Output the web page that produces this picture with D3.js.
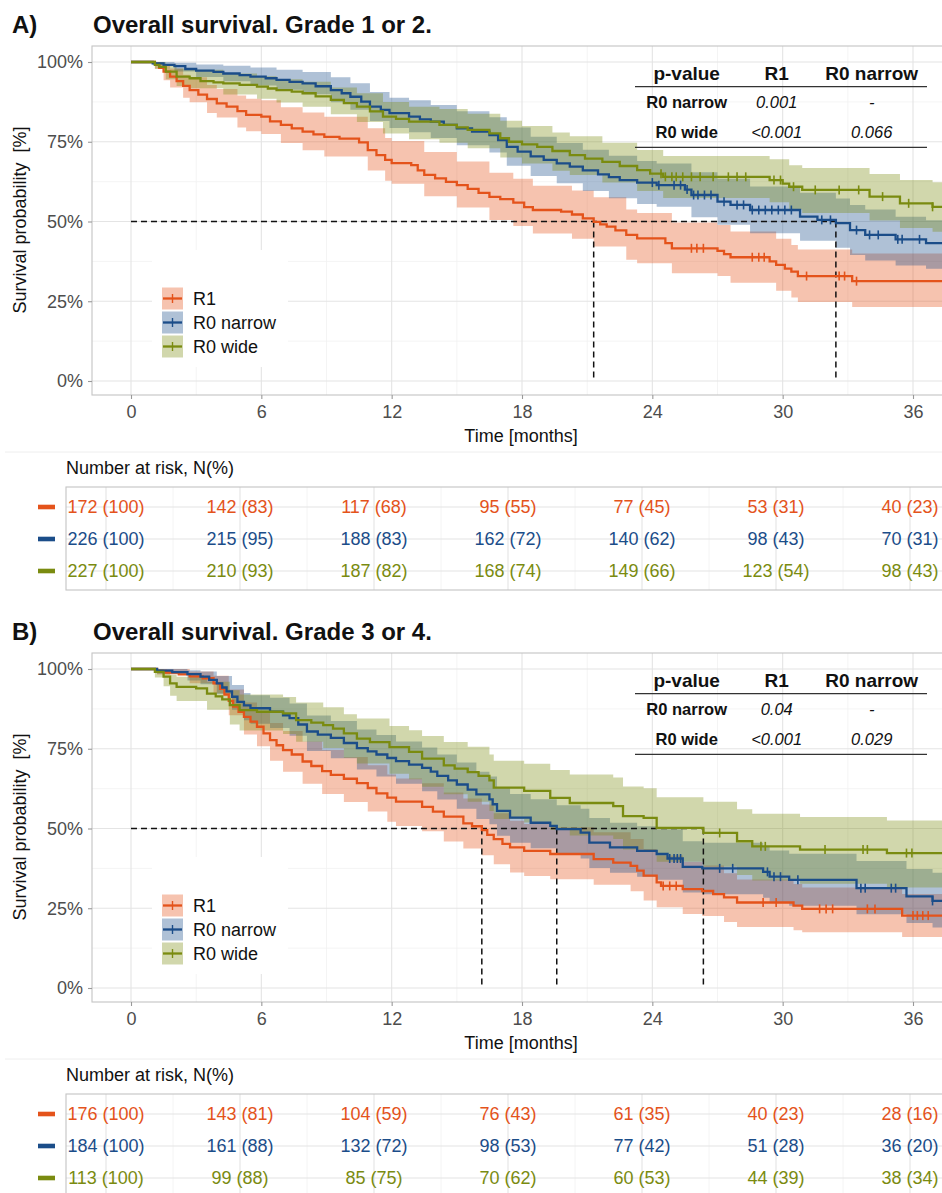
<!DOCTYPE html>
<html>
<head>
<meta charset="utf-8">
<script src="https://cdn.jsdelivr.net/npm/d3@7"></script>
<style>
  body { margin: 0; background: #fff; }
  svg { display: block; }
</style>
</head>
<body>
<script>
// groups and ticks
var groups = ['R1', 'R0 narrow', 'R0 wide'];
var xTicks = [0, 6, 12, 18, 24, 30, 36];
var yTicks = [0, 25, 50, 75, 100];

// ---- panel A: grade 1 or 2 ----
var titleA = 'Overall survival. Grade 1 or 2.';
var kmA_R1 = [[0,100],[1.1,99.4],[1.3,98.2],[1.5,97],[1.8,95.4],[2.1,94],[2.4,92.5],[2.7,91.2],[3.1,89.8],[3.5,88.4],[3.95,87],[4.4,86],[4.9,84.6],[5.3,83.4],[6,82.9],[6.4,81.4],[6.9,80.3],[7.4,79.2],[7.9,78.2],[8.4,77.3],[8.9,76.5],[9.6,76],[10.5,74.8],[10.9,72.4],[11.3,70.8],[11.7,69.3],[12,68.3],[12.9,67.7],[13.2,66],[13.5,64.6],[14,63.5],[14.5,62.4],[15,61.4],[15.5,60.2],[16,59],[16.5,57.7],[17,57],[17.6,55.9],[18.1,54.5],[18.5,53.6],[19.8,53.1],[20.3,52.2],[20.8,51],[21.3,49.9],[21.6,49.1],[21.9,48.4],[22.3,47.2],[22.8,45.8],[23.3,44.7],[24.6,43.2],[24.9,41.6],[27,40.8],[27.3,39.8],[27.6,38.8],[29.4,37.5],[29.7,36.4],[30.1,35.2],[30.4,34.3],[30.7,32.9],[33.2,31.3]];
var ciA_R1 = [[0,100,100],[1.1,98,100],[1.5,94.3,99.2],[1.8,92,98],[2.4,88.8,96],[2.7,87.4,95.2],[3.5,84,92.8],[3.95,82.6,91.5],[4.9,79.5,89.5],[5.3,78.3,88.5],[6,77.4,88],[6.9,74.6,85.8],[7.9,72.3,84.2],[8.9,70.4,82.8],[10.9,66,79.2],[11.7,62.8,76.2],[12,61.8,75.2],[13.5,57.9,71.8],[15,54.4,68.8],[16.5,50.5,65.3],[17.6,48.6,63.4],[18.5,46.2,61.2],[20.3,44.6,59.7],[21.3,42.2,57.6],[22.8,38,53.8],[23.3,36.9,52.7],[24.9,33.8,49.7],[27,32.9,48.9],[27.6,30.8,46.9],[29.7,28.3,44.6],[30.4,26.2,42.6],[30.7,24.8,41.2],[33.2,23.2,40]];
var censA_R1 = [25.8,26.05,26.35,28.6,28.9,29.15,31.1,32.6,32.85,33.4];

var kmA_R0n = [[0,100],[1,99.6],[1.5,99.1],[2,98.7],[2.5,97.8],[3,97.3],[3.8,96.9],[4.25,96.4],[5,95.9],[5.5,95.4],[6.2,94.9],[6.7,94.4],[7.3,93.8],[7.9,93.3],[8.5,92.4],[9.2,91.2],[9.7,90.2],[10.1,89.1],[10.6,87.6],[11,86],[11.5,85],[11.9,84],[12.8,82.9],[13.3,82],[13.8,81.3],[14.4,80.3],[15,79.2],[15.7,78.2],[16.5,77.1],[16.9,75.5],[17.3,73.4],[17.8,71.9],[18.4,70.4],[19,69.3],[19.6,68.2],[20.2,67.2],[20.8,66],[21.5,64.8],[22,63.9],[22.5,63],[23.3,62.2],[24.2,61.4],[25.5,60],[25.8,58.3],[27,56.2],[27.6,55.2],[28.5,53.6],[30.8,51.5],[31.6,50.5],[32.45,49.5],[33.1,47.3],[33.8,45.8],[35.2,44.4],[36.6,43.2]];
var ciA_R0n = [[0,100,100],[1,99,100],[2,97,99.8],[3,95.3,99.2],[4.25,94,98.8],[5.5,92.6,98.3],[6.7,91.3,97.6],[7.9,89.9,96.9],[9.2,87.4,95.2],[10.1,85,93.3],[11,81.5,90.6],[11.9,79.3,88.8],[12.8,78,88],[13.8,76.2,86.5],[15,73.9,84.6],[16.5,71.6,82.7],[17.3,67.5,79.5],[18.4,64.3,76.6],[19.6,62,74.6],[20.8,59.6,72.5],[22,57.3,70.6],[23.3,55.5,69],[24.2,54.6,68.2],[25.8,51.3,65.4],[27,49,63.4],[28.5,46.3,61],[30.8,44,59],[32.45,41.8,57.2],[33.1,39.5,55.2],[33.8,37.8,53.8],[35.2,36.2,51.5],[36.6,35.2,50.4]];
var censA_R0n = [24,24.3,25,25.3,25.6,25.9,26.1,26.4,26.7,27.3,27.9,28.2,28.6,28.9,29.2,29.5,29.8,30.1,30.4,31.8,32.2,33.4,34,34.4,35.3,35.5,36.3];

var kmA_R0w = [[0,100],[1.1,99.1],[1.3,98.5],[1.6,97],[2.1,95.4],[2.7,94.9],[3.2,94],[3.8,93.6],[4.25,93.3],[5,92.8],[5.8,92.3],[6.3,91.7],[6.7,91.2],[7.4,90.7],[7.9,90.2],[8.5,89.2],[9.2,88.1],[9.8,87.1],[10.4,86],[11,84.5],[11.6,82.9],[12.2,82.2],[12.8,81.3],[14.2,80.3],[15,79.5],[15.5,78.7],[16.5,77.6],[17,76.1],[17.4,75],[18,74.2],[18.7,73.4],[19.4,72.1],[20.2,70.8],[20.9,69.7],[21.7,68.7],[22.5,67.4],[23.3,66.1],[23.9,65],[24.5,64],[29.4,63],[30,61.9],[30.3,60.9],[30.9,59.9],[34,57.8],[35.4,55.7],[36.9,54.6]];
var ciA_R0w = [[0,100,100],[1.1,97.8,100],[1.6,94.6,99.2],[2.1,92.5,98],[2.7,91.8,97.6],[4.25,89.8,96.4],[5.8,88.5,95.5],[6.7,87.3,94.6],[7.9,86,93.8],[9.2,83.6,92],[10.4,81.2,90.2],[11.6,77.6,87.5],[12.8,75.8,86],[14.2,74.7,85.3],[15.5,73,83.8],[17,70.1,81.6],[18,68.2,79.9],[19.4,65.9,77.9],[20.2,64.6,76.7],[21.7,62.2,74.7],[23.3,59.6,72.4],[24.5,57.4,70.5],[29.4,56,69.5],[30.3,53.8,67.6],[30.9,52.7,66.8],[34,50.3,64.9],[35.4,48,63],[36.9,46.8,62.3]];
var censA_R0w = [24.4,24.6,24.9,25.1,25.4,25.8,26.2,26.8,27.5,27.9,28.3,29.6,29.9,30.5,31.5,32.6,33.5,34.6,35.8,36.9];

var medianA = [21.3, 32.45];
var pvalA = [['R0 narrow', '0.001', '-'], ['R0 wide', '<0.001', '0.066']];
var riskA = [[172,142,117,95,77,53,40], [226,215,188,162,140,98,70], [227,210,187,168,149,123,98]];
var riskPctA = [[100,83,68,55,45,31,23], [100,95,83,72,62,43,31], [100,93,82,74,66,54,43]];

// ---- panel B: grade 3 or 4 ----
var titleB = 'Overall survival. Grade 3 or 4.';
var kmB_R1 = [[0,100],[1.2,99.4],[1.6,98.9],[2.2,98.3],[2.7,97.7],[3.3,97.1],[3.8,95.5],[4.1,93.8],[4.3,92],[4.5,90],[4.7,88.2],[4.95,86.6],[5.2,85],[5.5,83.5],[5.8,81.9],[6.1,79.8],[6.4,77.7],[6.7,76.1],[7,74.6],[7.4,73.2],[7.9,71],[8.3,69.6],[8.8,68],[9.2,66.8],[9.8,65.6],[10.4,64.2],[10.9,62.7],[11.3,61],[11.8,59.7],[12.2,58.4],[13.4,56.8],[13.9,55.3],[14.4,53.7],[15.3,51.6],[15.7,50.7],[16.15,49.5],[16.4,48],[16.7,46.7],[17.1,45.2],[17.45,44.1],[18.1,43],[19.3,42],[21.3,40.4],[22.2,39.3],[23,38.3],[23.3,36.8],[23.6,35.2],[24.2,33.1],[24.4,32],[25.4,31],[26.3,30.4],[26.8,29.4],[27.3,28.4],[27.9,26.8],[30.5,25.8],[30.9,24.8],[35.5,22.7]];
var ciB_R1 = [[0,100,100],[1.2,98.3,100],[2.7,95.5,99.2],[3.8,92.5,97.9],[4.5,85.5,93.6],[5.2,79.5,89.5],[5.8,75.8,86.8],[6.4,71.2,83.1],[7,67.8,80.6],[7.9,64,77.3],[8.8,60.8,74.6],[9.8,58.3,72.4],[10.9,55.3,69.8],[11.8,52.1,66.9],[12.2,50.8,65.7],[13.4,49.1,64.2],[14.4,45.9,61.3],[15.3,43.7,59.4],[16.15,41.6,57.5],[16.7,38.8,54.8],[17.45,36.2,52.4],[18.1,35.1,51.4],[19.3,34.1,50.4],[21.3,32.4,48.8],[23,30.3,46.7],[23.6,27.4,43.6],[24.2,25.3,41.5],[25.4,23.2,39.5],[26.3,22.6,38.4],[27.3,20.7,36],[27.9,19.1,34],[30.5,18.1,32.6],[30.9,17.5,31.5],[35.5,16,29.5]];
var censB_R1 = [24.5,24.8,25.1,29.1,29.7,31.7,32,32.3,33.9,34.25,36,36.2,36.45,36.7];

var kmB_R0n = [[0,100],[1.2,99.5],[1.9,99],[2.6,98.4],[3.2,97.6],[3.6,96.6],[3.95,95.5],[4.2,94.2],[4.4,93],[4.65,91.3],[4.9,89.7],[5.2,88.6],[5.5,87.7],[6.4,86.6],[7,85.5],[7.3,84.6],[7.7,82.6],[8.1,80.4],[8.6,79.4],[9.2,78.4],[9.8,76.8],[10.4,75.2],[10.9,74.2],[11.3,73.2],[11.8,72.1],[12.2,71.1],[12.8,70],[13.4,69],[13.8,67.8],[14.1,66.5],[14.6,65.1],[15,63.8],[15.5,62.2],[15.9,60.7],[16.5,59.1],[16.65,57.6],[16.85,55.5],[17.45,53.4],[18.4,51.8],[19.3,50.8],[19.6,49.8],[20.7,48.7],[21.1,45.6],[22.05,44.1],[23.3,43],[24.2,42],[24.7,40.6],[25.4,38],[26.3,37.5],[29.1,36.4],[29.4,34.9],[30.3,33.9],[33.4,31.3],[35.7,28.7],[36.9,27.3]];
var ciB_R0n = [[0,100,100],[1.2,98.5,100],[2.6,96.4,99.6],[3.2,95.2,99.2],[3.95,92.2,97.8],[4.65,87.2,95],[5.2,83.9,92.5],[5.5,82.8,91.8],[6.4,81.5,91],[7.3,79.1,89.2],[8.1,74.3,85.4],[9.2,72,83.7],[10.4,68.5,81],[11.3,66.3,79.3],[12.2,64,77.3],[13.4,61.7,75.4],[14.1,59.1,73.2],[15,56.2,70.7],[15.9,53,67.8],[16.5,51.3,66.3],[16.85,47.7,62.8],[17.45,45.5,60.8],[18.4,43.8,59.2],[19.6,41.7,57.3],[20.7,40.6,56.2],[21.1,37.6,53.3],[22.05,36.1,51.8],[23.3,34.9,50.7],[24.2,33.9,49.8],[25.4,29.9,46],[26.3,29.4,45.5],[29.1,28.3,44.5],[29.4,26.8,43.1],[30.3,25.8,42.1],[33.4,23.1,39.8],[35.7,20.4,37.3],[36.9,19,36.1]];
var censB_R0n = [24.8,25,25.15,25.3,27.1,27.7,29.3,29.6,29.9,30.7,33.6,33.8,35,35.2,36.9];

var kmB_R0w = [[0,100],[1.1,99.1],[1.5,97.6],[1.8,95.5],[2.1,94.4],[3,93.9],[3.5,92.3],[3.9,91.4],[4.2,90.5],[4.55,88.7],[5,87.1],[5.8,86.6],[7,86.1],[7.6,84],[8.3,83.2],[8.85,82.4],[9.3,81.3],[9.8,79.8],[10.4,78.2],[11,77.1],[11.9,75.5],[12.8,74],[13.4,71.9],[14.4,69.8],[14.9,68.8],[15.5,67.7],[16,66.5],[16.5,65.1],[16.7,62.8],[18.1,61.8],[19.3,59.6],[20.2,58],[22.2,57],[22.65,53.9],[23.6,53.3],[24.2,50.2],[26.35,48.6],[27.9,46],[28.6,44.4],[30.8,43.4],[34.8,42.3]];
var ciB_R0w = [[0,100,100],[1.1,97.3,100],[1.5,94.6,99.3],[1.8,91.6,98.2],[2.1,90,97.6],[3.5,87.2,96],[4.55,82.6,93.3],[5,80.7,92],[7,79.6,91.2],[7.6,77.2,89.5],[8.85,75.2,88],[9.8,72.2,85.8],[10.4,70.4,84.5],[11.9,67.2,82.1],[12.8,65.4,80.8],[13.4,63.1,79],[14.4,60.7,77.1],[15.5,58.4,75.6],[16.5,55.5,73.2],[16.7,53,71.2],[18.1,51.9,70.3],[19.3,49.5,68.3],[20.2,47.8,66.9],[22.2,46.7,66],[22.65,43.4,63.2],[23.6,42.8,62.6],[24.2,39.6,59.8],[26.35,38,58.4],[27.9,35.4,56],[28.6,33.7,54.6],[30.8,32.7,53.6],[34.8,31.5,52.5]];
var censB_R0w = [27.1,29,29.2,31.95,33.7,33.9,35.7,35.95];

var medianB = [16.15, 19.6, 26.35];
var pvalB = [['R0 narrow', '0.04', '-'], ['R0 wide', '<0.001', '0.029']];
var riskB = [[176,143,104,76,61,40,28], [184,161,132,98,77,51,36], [113,99,85,70,60,44,38]];
var riskPctB = [[100,81,59,43,35,23,16], [100,88,72,53,42,28,20], [100,88,75,62,53,39,34]];

// styles
var lineColors = ['#e4531b', '#1b4d89', '#7a8b10'];
var FONT = '"Liberation Sans", Arial, Helvetica, sans-serif';
var W = 942, H = 1193, tEnd = 38.5;

var svg = d3.select('body').append('svg')
  .attr('width', W).attr('height', H)
  .style('font-family', FONT);

var x = d3.scaleLinear().domain([0, 36]).range([131, 913]);
var y = d3.scaleLinear().domain([0, 100]).range([381, 62]);
var xr = d3.scaleLinear().domain([0, 36]).range([106, 910]);
var rowY = d3.scalePoint().domain(groups).range([507, 571]);

var stepLine = d3.line().x(function(d) { return x(d[0]); }).y(function(d) { return y(d[1]); }).curve(d3.curveStepAfter);
var stepArea = d3.area().x(function(d) { return x(d[0]); })
  .y0(function(d) { return y(d[1]); }).y1(function(d) { return y(d[2]); }).curve(d3.curveStepAfter);

var survAt = function(km, t) {
  var i = d3.bisectRight(km.map(function(d) { return d[0]; }), t) - 1;
  return km[Math.max(i, 0)][1];
};

var drawPanel = function(id, dy, p) {
  var g = svg.append('g').attr('transform', 'translate(0,' + dy + ')');
  var px0 = 92, py0 = 46, px1 = 962, py1 = 395;

  g.append('text').attr('x', 12).attr('y', 33).attr('font-size', 24).attr('font-weight', 'bold').attr('fill', '#111').text(p.letter);
  g.append('text').attr('x', 93).attr('y', 33).attr('font-size', 24).attr('font-weight', 'bold').attr('fill', '#111').text(p.title);

  g.append('clipPath').attr('id', 'clip' + id).append('rect')
    .attr('x', px0).attr('y', py0).attr('width', px1 - px0).attr('height', py1 - py0);

  // grid
  var grid = g.append('g');
  var minorX = d3.range(3, 40, 6), minorY = [12.5, 37.5, 62.5, 87.5];
  grid.selectAll('.mx').data(minorX).enter().append('line')
    .attr('x1', x).attr('x2', x).attr('y1', py0).attr('y2', py1).attr('stroke', '#f1f1f1').attr('stroke-width', 0.8);
  grid.selectAll('.my').data(minorY).enter().append('line')
    .attr('x1', px0).attr('x2', px1).attr('y1', y).attr('y2', y).attr('stroke', '#f1f1f1').attr('stroke-width', 0.8);
  grid.selectAll('.gx').data(xTicks).enter().append('line')
    .attr('x1', x).attr('x2', x).attr('y1', py0).attr('y2', py1).attr('stroke', '#e4e4e4').attr('stroke-width', 1.1);
  grid.selectAll('.gy').data(yTicks).enter().append('line')
    .attr('x1', px0).attr('x2', px1).attr('y1', y).attr('y2', y).attr('stroke', '#e4e4e4').attr('stroke-width', 1.1);

  // legend background hides grid
  g.append('rect').attr('x', 152).attr('y', 250).attr('width', 136).attr('height', 117).attr('fill', '#fff');

  var plot = g.append('g').attr('clip-path', 'url(#clip' + id + ')');

  // ribbons
  p.ci.forEach(function(ci, k) {
    var pts = ci.concat([[tEnd, ci[ci.length - 1][1], ci[ci.length - 1][2]]]);
    plot.append('path').attr('d', stepArea(pts)).attr('fill', lineColors[k]).attr('fill-opacity', 0.35);
  });

  // dashed median lines
  var dash = plot.append('g').attr('stroke', '#111').attr('stroke-width', 1.5).attr('stroke-dasharray', '6,4');
  dash.append('line').attr('x1', x(0)).attr('x2', x(d3.max(p.medians))).attr('y1', y(50)).attr('y2', y(50));
  dash.selectAll('.vm').data(p.medians).enter().append('line')
    .attr('x1', x).attr('x2', x).attr('y1', y(50)).attr('y2', y(0));

  // curves and censor marks
  p.km.forEach(function(km, k) {
    var pts = km.concat([[tEnd, km[km.length - 1][1]]]);
    plot.append('path').attr('d', stepLine(pts)).attr('fill', 'none')
      .attr('stroke', lineColors[k]).attr('stroke-width', 2.3);
    plot.selectAll('.c' + k).data(p.cens[k]).enter().append('line')
      .attr('x1', x).attr('x2', x)
      .attr('y1', function(t) { return y(survAt(km, t)) - 4.5; })
      .attr('y2', function(t) { return y(survAt(km, t)) + 4.5; })
      .attr('stroke', lineColors[k]).attr('stroke-width', 1.6);
  });

  // panel border
  g.append('rect').attr('x', px0).attr('y', py0).attr('width', px1 - px0).attr('height', py1 - py0)
    .attr('fill', 'none').attr('stroke', '#c4c4c4').attr('stroke-width', 1.1);

  // axes
  var ya = g.append('g').attr('transform', 'translate(' + px0 + ',0)')
    .call(d3.axisLeft(y).tickValues(yTicks).tickFormat(function(d) { return d + '%'; }).tickSize(4).tickPadding(5));
  var xa = g.append('g').attr('transform', 'translate(0,' + py1 + ')')
    .call(d3.axisBottom(x).tickValues(xTicks).tickSize(4).tickPadding(6));
  [ya, xa].forEach(function(a) {
    a.select('.domain').remove();
    a.selectAll('.tick line').attr('stroke', '#999').attr('stroke-width', 1.1);
    a.selectAll('.tick text').attr('fill', '#4d4d4d').attr('font-size', 18).attr('font-family', FONT);
  });

  g.append('text').attr('x', 521).attr('y', 442).attr('text-anchor', 'middle').attr('font-size', 18).attr('fill', '#111').text('Time [months]');
  g.append('text').attr('transform', 'translate(26,220) rotate(-90)').attr('text-anchor', 'middle')
    .attr('font-size', 18).attr('fill', '#111').attr('xml:space', 'preserve').text('Survival probability  [%]');

  // legend
  var keyY = [287.5, 311.5, 335.5];
  groups.forEach(function(name, k) {
    var lg = g.append('g').attr('transform', 'translate(162,' + keyY[k] + ')');
    lg.append('rect').attr('width', 21).attr('height', 22).attr('fill', lineColors[k]).attr('fill-opacity', 0.35);
    lg.append('line').attr('x1', 1).attr('x2', 20).attr('y1', 11).attr('y2', 11).attr('stroke', lineColors[k]).attr('stroke-width', 2.3);
    lg.append('line').attr('x1', 10.5).attr('x2', 10.5).attr('y1', 6.5).attr('y2', 15.5).attr('stroke', lineColors[k]).attr('stroke-width', 1.4);
    lg.append('text').attr('x', 31).attr('y', 11).attr('dy', '0.35em').attr('font-size', 18).attr('fill', '#111').text(name);
  });

  // p-value table
  var colX = [686.7, 776.7, 871.7];
  var tb = g.append('g').attr('fill', '#111');
  ['p-value', 'R1', 'R0 narrow'].forEach(function(h, j) {
    tb.append('text').attr('x', colX[j]).attr('y', 73.5).attr('dy', '0.35em').attr('text-anchor', 'middle')
      .attr('font-size', 19).attr('font-weight', 'bold').text(h);
  });
  tb.append('line').attr('x1', 635).attr('x2', 927).attr('y1', 86.7).attr('y2', 86.7).attr('stroke', '#333').attr('stroke-width', 1.3);
  tb.append('line').attr('x1', 635).attr('x2', 927).attr('y1', 147.3).attr('y2', 147.3).attr('stroke', '#333').attr('stroke-width', 1.3);
  p.pvals.forEach(function(row, i) {
    row.forEach(function(v, j) {
      tb.append('text').attr('x', colX[j]).attr('y', 102.7 + i * 30).attr('dy', '0.35em').attr('text-anchor', 'middle')
        .attr('font-size', 16.5).attr('font-weight', j === 0 ? 'bold' : 'normal')
        .attr('font-style', j === 0 ? 'normal' : 'italic').text(v);
    });
  });

  // risk table
  g.append('line').attr('x1', 5).attr('x2', W).attr('y1', 452).attr('y2', 452).attr('stroke', '#eeeeee');
  g.append('text').attr('x', 66).attr('y', 468).attr('dy', '0.35em').attr('font-size', 18).attr('fill', '#111').text('Number at risk, N(%)');
  var rt = g.append('g');
  var rx0 = 66, ry0 = 487, ry1 = 590;
  rt.selectAll('.rmx').data(d3.range(3, 40, 6)).enter().append('line')
    .attr('x1', xr).attr('x2', xr).attr('y1', ry0).attr('y2', ry1).attr('stroke', '#f1f1f1').attr('stroke-width', 0.8);
  rt.selectAll('.rgx').data(xTicks).enter().append('line')
    .attr('x1', xr).attr('x2', xr).attr('y1', ry0).attr('y2', ry1).attr('stroke', '#e4e4e4').attr('stroke-width', 1.1);
  rt.selectAll('.rgy').data(groups).enter().append('line')
    .attr('x1', rx0).attr('x2', W + 10).attr('y1', rowY).attr('y2', rowY).attr('stroke', '#e4e4e4').attr('stroke-width', 1.1);
  rt.append('rect').attr('x', rx0).attr('y', ry0).attr('width', W + 10 - rx0).attr('height', ry1 - ry0)
    .attr('fill', 'none').attr('stroke', '#c4c4c4').attr('stroke-width', 1.1);
  groups.forEach(function(name, k) {
    rt.append('rect').attr('x', 38).attr('y', rowY(name) - 2.3).attr('width', 17).attr('height', 4.6).attr('fill', lineColors[k]);
    rt.selectAll('.rv' + k).data(xTicks).enter().append('text')
      .attr('x', xr).attr('y', rowY(name)).attr('dy', '0.35em').attr('text-anchor', 'middle')
      .attr('font-size', 18).attr('fill', lineColors[k])
      .text(function(t, i) { return p.risk[k][i] + ' (' + p.pct[k][i] + ')'; });
  });
};

drawPanel('A', 0, {
  letter: 'A)', title: titleA,
  km: [kmA_R1, kmA_R0n, kmA_R0w], ci: [ciA_R1, ciA_R0n, ciA_R0w], cens: [censA_R1, censA_R0n, censA_R0w],
  medians: medianA, pvals: pvalA, risk: riskA, pct: riskPctA
});
drawPanel('B', 607, {
  letter: 'B)', title: titleB,
  km: [kmB_R1, kmB_R0n, kmB_R0w], ci: [ciB_R1, ciB_R0n, ciB_R0w], cens: [censB_R1, censB_R0n, censB_R0w],
  medians: medianB, pvals: pvalB, risk: riskB, pct: riskPctB
});
</script>
</body>
</html>
